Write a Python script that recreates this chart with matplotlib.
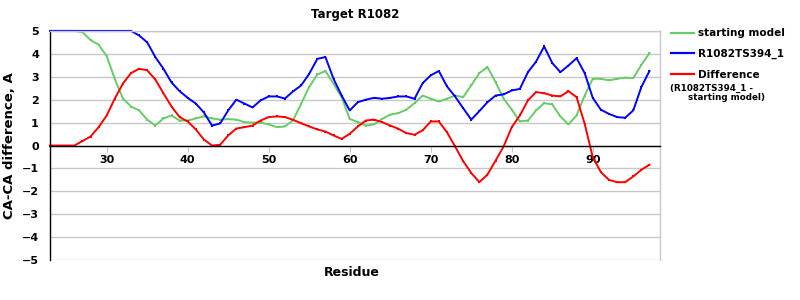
import numpy as np
import matplotlib
matplotlib.use('Agg')
import matplotlib.pyplot as plt
from matplotlib.lines import Line2D

# Residue numbers and CA-CA differences
residues = list(range(23, 98))

starting_model = [5.0, 5.0, 5.0, 5.0, 4.95, 4.6, 4.4, 3.9, 2.9, 2.05,
                  1.7, 1.53, 1.13, 0.87, 1.18, 1.31, 1.09, 1.09, 1.18, 1.27,
                  1.18, 1.13, 1.15, 1.13, 1.02, 1.0, 1.0, 0.92, 0.8, 0.83,
                  1.1, 1.82, 2.55, 3.1, 3.25, 2.69, 2.11, 1.16, 1.02, 0.87,
                  0.92, 1.16, 1.35, 1.41, 1.57, 1.85, 2.18, 2.04, 1.92, 2.04,
                  2.18, 2.11, 2.62, 3.16, 3.42, 2.77, 2.04, 1.57, 1.05, 1.09,
                  1.53, 1.85, 1.79, 1.27, 0.92, 1.31, 2.18, 2.91, 2.91, 2.84,
                  2.91, 2.96, 2.94, 3.52, 4.03]

model_394 = [5.0, 5.0, 5.0, 5.0, 5.0, 5.0, 5.0, 5.0, 5.0, 5.0,
             5.0, 4.8, 4.5, 3.86, 3.35, 2.75, 2.37, 2.08, 1.83, 1.44,
             0.87, 0.96, 1.53, 2.0, 1.83, 1.66, 1.97, 2.14, 2.14, 2.05,
             2.36, 2.62, 3.13, 3.78, 3.86, 2.91, 2.18, 1.53, 1.89, 2.0,
             2.08, 2.04, 2.08, 2.14, 2.14, 2.04, 2.72, 3.06, 3.25, 2.58,
             2.14, 1.63, 1.13, 1.5, 1.89, 2.18, 2.23, 2.4, 2.47, 3.2,
             3.66, 4.32, 3.6, 3.2, 3.49, 3.81, 3.16, 2.08, 1.56, 1.38,
             1.24, 1.21, 1.53, 2.55, 3.25]

difference = [0.0, 0.0, 0.0, 0.0, 0.19, 0.39, 0.8, 1.31, 2.05, 2.7,
              3.16, 3.35, 3.28, 2.88, 2.28, 1.7, 1.24, 1.05, 0.7, 0.26,
              0.0, 0.03, 0.44, 0.74, 0.8, 0.87, 1.09, 1.24, 1.27, 1.24,
              1.12, 0.97, 0.83, 0.7, 0.61, 0.44, 0.29, 0.51, 0.83, 1.09,
              1.13, 1.02, 0.87, 0.73, 0.54, 0.47, 0.66, 1.05, 1.05, 0.58,
              -0.04, -0.68, -1.2, -1.6, -1.27, -0.66, -0.04, 0.8, 1.31, 1.97,
              2.33, 2.28, 2.18, 2.14, 2.37, 2.11, 0.95, -0.51, -1.16, -1.5,
              -1.6, -1.6, -1.35, -1.06, -0.84]

green = '#66cc66'
blue = '#0000ff'
red = '#ff0000'
grid_col = '#c8c8c8'

plt.rcParams['font.family'] = ['DejaVu Sans']
plt.rcParams['font.weight'] = 'bold'

fig = plt.figure(figsize=(8, 3), dpi=100)
ax = fig.add_axes([0.0625, 0.133, 0.7625, 0.764])

line_kw = dict(lw=1.4, marker='s', markersize=1.8, markeredgewidth=0, clip_on=False)
ax.plot(residues, starting_model, color=green, **line_kw)
ax.plot(residues, model_394, color=blue, **line_kw)
ax.plot(residues, difference, color=red, **line_kw)

ax.set_xlim(23, 98.3)
ax.set_ylim(-5, 5)
ax.set_yticks(range(-5, 6))
ax.set_xticks(range(30, 100, 10))
ax.yaxis.grid(True, color=grid_col, lw=1)
ax.set_axisbelow(True)

# x axis drawn through zero
ax.spines['bottom'].set_position(('data', 0))
ax.spines['bottom'].set_color('black')
ax.spines['left'].set_color('black')
ax.spines['right'].set_color(grid_col)
ax.spines['top'].set_color(grid_col)
for s in ax.spines.values():
    s.set_linewidth(1)

ax.tick_params(axis='x', length=4, color=grid_col, labelsize=8, pad=3)
ax.tick_params(axis='y', length=0, labelsize=8, pad=8)
for lab in ax.get_xticklabels() + ax.get_yticklabels():
    lab.set_fontweight('bold')

ax.set_title('Target R1082', fontsize=8.5, fontweight='bold', pad=9)
ax.set_ylabel('CA-CA difference, A', fontsize=9.5, fontweight='bold', labelpad=4)
fig.text(0.44, 0.09, 'Residue', fontsize=9, fontweight='bold', ha='center', va='center')

# Legend outside to the right
handles = [Line2D([], [], color=c, lw=1.6, marker='s', markersize=1.8, markeredgewidth=0)
           for c in (green, blue, red)]
leg = fig.legend(handles, ['starting model', 'R1082TS394_1', 'Difference'],
                 loc='upper left', bbox_to_anchor=(0.836, 0.912), frameon=False,
                 handlelength=2.2, handletextpad=0.4, labelspacing=1.0,
                 borderaxespad=0, borderpad=0.2,
                 prop={'size': 7.5, 'weight': 'bold'})
fig.text(0.838, 0.72, '(R1082TS394_1 -\n      starting model)', fontsize=6.3,
         fontweight='bold', va='top', ha='left', linespacing=1.05)

fig.savefig('out.png', dpi=100)
